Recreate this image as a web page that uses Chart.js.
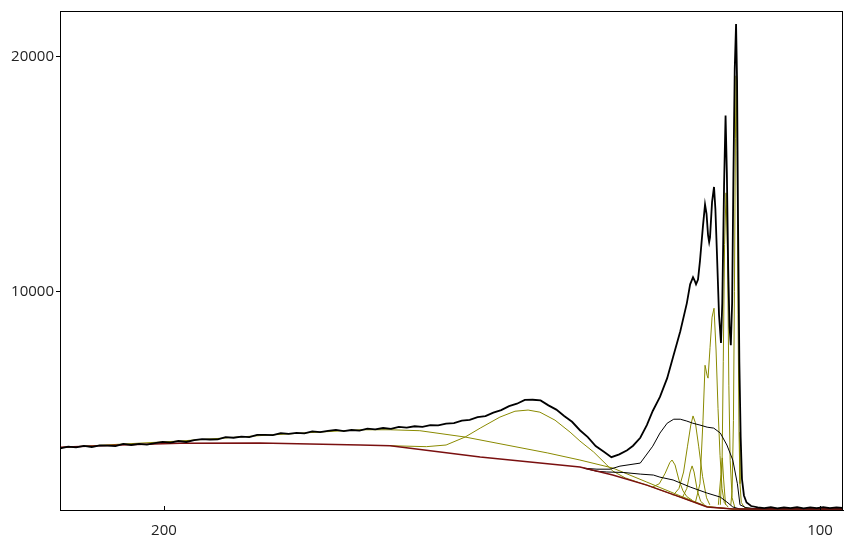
<!DOCTYPE html>
<html>
<head>
<meta charset="utf-8">
<script src="https://cdn.jsdelivr.net/npm/chart.js@4"></script>
<style>
  body { margin: 0; background: #fff; }
  canvas { display: block; }
</style>
</head>
<body>
<canvas id="chart" width="853" height="540"></canvas>
<script>
// measured spectrum (black dots)
let expX = [215.8, 214.6, 213.4, 212.2, 211.0, 209.8, 208.6, 207.4, 206.2, 205.0, 203.8, 202.6, 201.4, 200.2, 199.0, 197.8, 196.6, 195.4, 194.2, 193.0, 191.8, 190.6, 189.4, 188.2, 187.0, 185.8, 184.6, 183.4, 182.2, 181.0, 179.8, 178.6, 177.4, 176.2, 175.0, 173.8, 172.6, 171.4, 170.2, 169.0, 167.8, 166.6, 165.4, 164.2, 163.0, 161.8, 160.6, 159.4, 158.2, 157.0, 155.8, 154.6, 153.4, 152.2, 151.0, 149.8, 148.6, 147.4, 146.2, 145.0, 143.8, 142.6, 141.4, 140.2, 139.0, 137.8, 136.6, 135.4, 134.2, 133.0, 131.8, 130.6, 129.4, 128.5, 127.4, 126.4, 125.5, 124.4, 123.3, 122.4, 121.3, 120.3, 119.8, 119.36, 119.1, 118.9, 118.6, 118.3, 117.84, 117.53, 117.3, 117.07, 116.9, 116.77, 116.46, 116.16, 115.95, 115.7, 115.4, 115.1, 114.9, 114.63, 114.4, 114.2, 114.0, 113.8, 113.6, 113.4, 113.2, 113.0, 112.8, 112.65, 112.5, 112.3, 112.1, 111.9, 111.6, 111.2, 110.5, 109.5, 108.5, 107.5, 106.5, 105.5, 104.5, 103.5, 102.5, 101.5, 100.5, 99.5, 98.5, 97.5, 96.6];
let expY = [3310, 3385, 3350, 3410, 3365, 3435, 3425, 3405, 3495, 3450, 3500, 3465, 3530, 3585, 3550, 3620, 3580, 3660, 3700, 3685, 3690, 3785, 3760, 3810, 3785, 3880, 3885, 3875, 3960, 3925, 3970, 3950, 4035, 4000, 4055, 4095, 4045, 4090, 4065, 4145, 4120, 4175, 4140, 4220, 4195, 4250, 4220, 4295, 4285, 4365, 4380, 4490, 4520, 4635, 4680, 4830, 4935, 5105, 5210, 5370, 5380, 5350, 5140, 4960, 4685, 4440, 4080, 3785, 3405, 3170, 2930, 3050, 3230, 3420, 3760, 4300, 4900, 5500, 6300, 7200, 8300, 9500, 10300, 10600, 10450, 10300, 10500, 11300, 12800, 13700, 13300, 12400, 12100, 12300, 13800, 14450, 13500, 11500, 9000, 7800, 9500, 14500, 17500, 15000, 11000, 8500, 7700, 9500, 15000, 19500, 21400, 19000, 13000, 7000, 3800, 2000, 1300, 1000, 850, 790, 760, 800, 750, 790, 760, 800, 750, 790, 760, 800, 760, 790, 770];

// background (dark red)
let baseX = [215.85, 206.7, 197.6, 185.4, 170.1, 165.5, 151.8, 136.6, 131.6, 126.4, 121.3, 117.2, 113.3, 110, 96.5];
let baseY = [3360, 3450, 3530, 3540, 3450, 3420, 2940, 2510, 2170, 1740, 1230, 810, 720, 720, 720];

// broad component on the left (olive)
let broadX = [215.85, 207, 197.6, 185.4, 177.7, 170, 165.5, 161, 154.1, 141.5, 136.6, 131.6, 126.4, 121.3, 117.2, 113.3, 96.5];
let broadY = [3340, 3480, 3620, 3850, 3980, 4100, 4100, 4060, 3790, 3110, 2810, 2470, 1870, 1280, 830, 720, 720];

// bump component near 145 (olive)
let bumpX = [165.5, 160, 157, 154.1, 151.8, 148.8, 146.5, 144.5, 142.7, 140.4, 138.1, 136.6, 134.5, 132.5, 131.6, 129.7, 127.4, 126.4, 121.3, 117.2, 113.3, 96.5];
let bumpY = [3420, 3380, 3450, 3790, 4170, 4640, 4890, 4940, 4850, 4510, 4000, 3620, 3150, 2600, 2340, 2050, 1830, 1740, 1230, 810, 720, 720];

// upper step background (black)
let stepHiX = [136, 134, 132, 130.5, 127.4, 125.5, 124.4, 123.3, 122.3, 121.3, 120.3, 119.4, 118.3, 117.2, 116.2, 115.2, 114.2, 113.3, 112.6, 112.2, 111.3, 110, 96.5];
let stepHiY = [2460, 2420, 2420, 2550, 2680, 3400, 3960, 4380, 4550, 4550, 4470, 4380, 4300, 4210, 4170, 3960, 3450, 2810, 1800, 900, 780, 740, 720];

// lower step background (black)
let stepLoX = [136, 134, 132.5, 130, 127.4, 125.4, 124.4, 122.4, 119.8, 117.2, 115.2, 114.2, 113.3, 112.2, 96.5];
let stepLoY = [2460, 2330, 2300, 2280, 2210, 2170, 2080, 1960, 1660, 1400, 1230, 1020, 810, 720, 720];

// narrow components (olive)
let peakAX = [125.5, 124.5, 123.6, 122.9, 122.56, 122.1, 121.5, 120.9, 120.3, 119.5];
let peakAY = [1660, 1800, 2250, 2700, 2810, 2600, 1950, 1500, 1250, 1100];
let peakBX = [121.0, 120.3, 119.8, 119.5, 119.2, 118.7, 118.2, 117.6];
let peakBY = [1200, 1600, 2300, 2560, 2300, 1500, 1050, 900];
let peakCX = [122.4, 121.5, 120.8, 120.2, 119.7, 119.36, 119.0, 118.5, 117.9, 117.3, 116.8];
let peakCY = [1300, 1600, 2300, 3400, 4300, 4690, 4400, 3400, 2100, 1200, 900];
let peakDX = [119.0, 118.3, 117.84, 117.53, 117.2, 117.07, 116.77, 116.46, 116.16, 115.85, 115.55, 115.24, 114.94, 114.6, 114.0];
let peakDY = [1000, 1800, 4500, 6850, 6400, 6300, 7600, 8900, 9280, 7500, 5000, 3000, 1600, 1000, 800];
let peakEX = [115.5, 115.1, 114.9, 114.7, 114.4];
let peakEY = [900, 2200, 2900, 2000, 900];
let peakFX = [115.2, 114.94, 114.75, 114.55, 114.33, 114.1, 113.9, 113.7, 113.4, 113.0];
let peakFY = [900, 2500, 7000, 12000, 14200, 11500, 6000, 2800, 1200, 800];
let peakGX = [113.6, 113.4, 113.2, 113.05, 112.9, 112.8, 112.65, 112.5, 112.35, 112.2, 112.0, 111.5, 110.5];
let peakGY = [900, 1500, 4500, 10000, 16500, 19190, 16000, 9000, 4000, 1800, 1000, 780, 740];

let xTicks = [100, 200];
let yTicks = [10000, 20000];

const OLIVE = "#8a8a00";
const RED = "#7a1010";

function pts(xs, ys) {
  return xs.map((x, i) => ({ x: x, y: ys[i] }));
}

function line(xs, ys, color, width, order) {
  return {
    data: pts(xs, ys),
    borderColor: color,
    borderWidth: width,
    pointRadius: 0,
    tension: 0,
    fill: false,
    order: order
  };
}

// top/right frame and inner ticks on the x axis
const framePlugin = {
  id: "frame",
  afterDraw(chart) {
    let ctx = chart.ctx;
    let a = chart.chartArea;
    ctx.save();
    ctx.strokeStyle = "#000";
    ctx.lineWidth = 1;
    ctx.strokeRect(a.left + 0.5, a.top + 0.5, a.right - a.left - 1, a.bottom - a.top);
    let xs = chart.scales.x;
    xTicks.forEach(v => {
      let px = Math.round(xs.getPixelForValue(v)) + 0.5;
      ctx.beginPath();
      ctx.moveTo(px, a.bottom);
      ctx.lineTo(px, a.bottom - 4);
      ctx.stroke();
    });
    ctx.restore();
  }
};

new Chart(document.getElementById("chart"), {
  type: "line",
  data: {
    datasets: [
      line(expX, expY, "#000", 1.8, 0),
      line(stepHiX, stepHiY, "#000", 1, 2),
      line(stepLoX, stepLoY, "#000", 1, 2),
      line(broadX, broadY, OLIVE, 1, 3),
      line(bumpX, bumpY, OLIVE, 1, 3),
      line(peakAX, peakAY, OLIVE, 1, 3),
      line(peakBX, peakBY, OLIVE, 1, 3),
      line(peakCX, peakCY, OLIVE, 1, 3),
      line(peakDX, peakDY, OLIVE, 1, 3),
      line(peakEX, peakEY, OLIVE, 1, 3),
      line(peakFX, peakFY, OLIVE, 1, 3),
      line(peakGX, peakGY, OLIVE, 1, 3),
      line(baseX, baseY, RED, 1.5, 1)
    ]
  },
  options: {
    responsive: false,
    animation: false,
    layout: { padding: { top: 10, right: 10, left: 0, bottom: 0 } },
    plugins: { legend: { display: false }, tooltip: { enabled: false } },
    scales: {
      x: {
        type: "linear",
        reverse: true,
        min: 96.5,
        max: 215.85,
        afterBuildTicks(scale) { scale.ticks = xTicks.map(v => ({ value: v })); },
        afterFit(scale) { scale.height = 30; },
        grid: { display: true, drawOnChartArea: false, drawTicks: false },
        border: { display: true, color: "#000", width: 1 },
        ticks: {
          color: "#222", padding: 12, font: { family: "Open Sans", size: 15 },
          callback: v => String(v)
        }
      },
      y: {
        min: 680,
        max: 21950,
        afterBuildTicks(scale) { scale.ticks = yTicks.map(v => ({ value: v })); },
        afterFit(scale) { scale.width = 60; },
        grid: { display: true, drawOnChartArea: false, tickLength: 4, color: "#000" },
        border: { display: true, color: "#000", width: 1 },
        ticks: {
          color: "#222", padding: 2, font: { family: "Open Sans", size: 15 },
          callback: v => String(v)
        }
      }
    }
  },
  plugins: [framePlugin]
});
</script>
</body>
</html>
